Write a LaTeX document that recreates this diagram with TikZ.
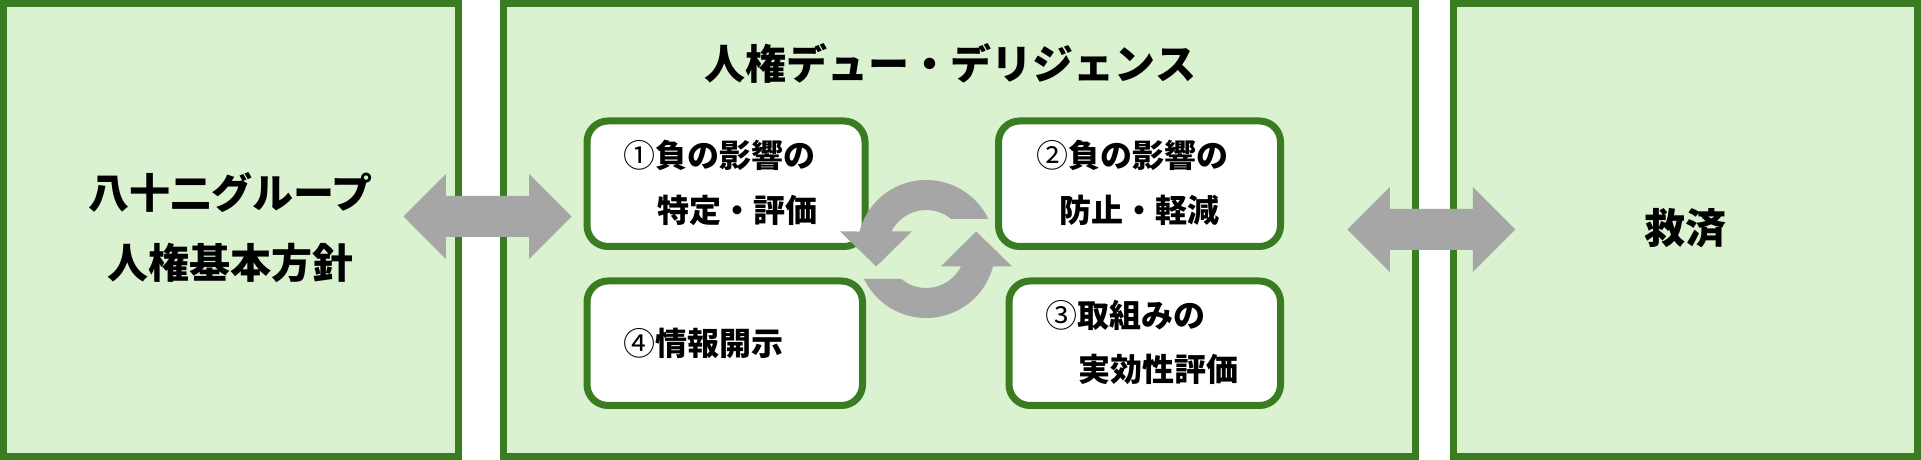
\documentclass[tikz,border=0pt]{standalone}
\usepackage{fontspec}
\newfontfamily\jp{Noto Sans CJK JP}
\usetikzlibrary{calc}
\definecolor{boxgreen}{HTML}{3A7C22}
\definecolor{boxfill}{HTML}{DAF2D0}
\definecolor{arrowgray}{HTML}{A6A6A6}
\newcommand\dblarrow[1]{%
  \begin{scope}[shift={(#1)}]
    \fill[arrowgray] (-84,0) -- (-41.6,42.5) -- (-41.6,20.5) -- (41.6,20.5) -- (41.6,42.5)
      -- (84,0) -- (41.6,-42.5) -- (41.6,-20.5) -- (-41.6,-20.5) -- (-41.6,-42.5) -- cycle;
  \end{scope}}
\newcommand\cnum[1]{{\mdseries #1}}
\begin{document}
\begin{tikzpicture}[x=1pt,y=1pt,
  outerbox/.style={draw=boxgreen,fill=boxfill,line width=7pt,rectangle,inner sep=0pt,outer sep=0pt},
  stepbox/.style={draw=boxgreen,fill=white,line width=7pt,rectangle,rounded corners=21pt,inner sep=0pt,outer sep=0pt},
  bigtext/.style={font=\jp\bfseries\fontsize{41}{49}\selectfont,inner sep=0pt,text=black},
  smalltext/.style={font=\jp\bfseries\fontsize{32}{38}\selectfont,inner sep=0pt,text=black}]
\useasboundingbox (0,0) rectangle (1921,460);
\fill[white] (0,0) rectangle (1921,460);
% outer boxes
\node[outerbox,minimum width=455pt,minimum height=453pt] (policy) at (231,230) {};
\node[outerbox,minimum width=912pt,minimum height=453pt] (hrdd) at (959.5,230) {};
\node[outerbox,minimum width=464pt,minimum height=453pt] (remedy) at (1685.5,230) {};
% inner step boxes
\node[stepbox,minimum width=278pt,minimum height=125.5pt] (s1) at (726,276.25) {};
\node[stepbox,minimum width=282pt,minimum height=125.5pt] (s2) at (1139.5,276.25) {};
\node[stepbox,minimum width=271.5pt,minimum height=124.5pt] (s3) at (1144.75,116.75) {};
\node[stepbox,minimum width=275.5pt,minimum height=124.5pt] (s4) at (724.75,116.75) {};
% texts
\node[bigtext] (policyA) at (230.5,267.5) {八十二グループ};
\node[bigtext] (policyB) at (230,197.5) {人権基本方針};
\node[bigtext] (title) at (950.4,396.7) {人権デュー・デリジェンス};
\node[bigtext] (remedyT) at (1685.3,231.7) {救済};
\node[smalltext] (s1a) at (719.3,304.2) {\cnum{①}負の影響の};
\node[smalltext] (s1b) at (737.7,249.2) {特定・評価};
\node[smalltext] (s2a) at (1132.3,304.2) {\cnum{②}負の影響の};
\node[smalltext] (s2b) at (1139.8,249.2) {防止・軽減};
\node[smalltext] (s3a) at (1125.3,144.2) {\cnum{③}取組みの};
\node[smalltext] (s3b) at (1158.3,90.8) {実効性評価};
\node[smalltext] (s4a) at (703.8,117) {\cnum{④}情報開示};
% double arrows
\coordinate (la) at (487.5,243.5);
\coordinate (ra) at (1431.35,230.5);
\dblarrow{la}
\dblarrow{ra}
% cycle arrows
\coordinate (c) at (926.2,211);
\fill[arrowgray] ($(c)+(25.77:69)$) arc[start angle=25.77,end angle=165.31,radius=69]
  -- ($(c)+(-86,17.5)$) -- ($(c)+(-50,-17.5)$) -- ($(c)+(-14.5,17.5)$)
  -- ($(c)+(153.34:39)$) arc[start angle=153.34,end angle=50.28,radius=39] -- cycle;
\fill[arrowgray] ($(c)+(205.77:69)$) arc[start angle=205.77,end angle=345.31,radius=69]
  -- ($(c)+(86,-17.5)$) -- ($(c)+(50,17.5)$) -- ($(c)+(14.5,-17.5)$)
  -- ($(c)+(333.34:39)$) arc[start angle=333.34,end angle=230.28,radius=39] -- cycle;
\end{tikzpicture}
\end{document}
